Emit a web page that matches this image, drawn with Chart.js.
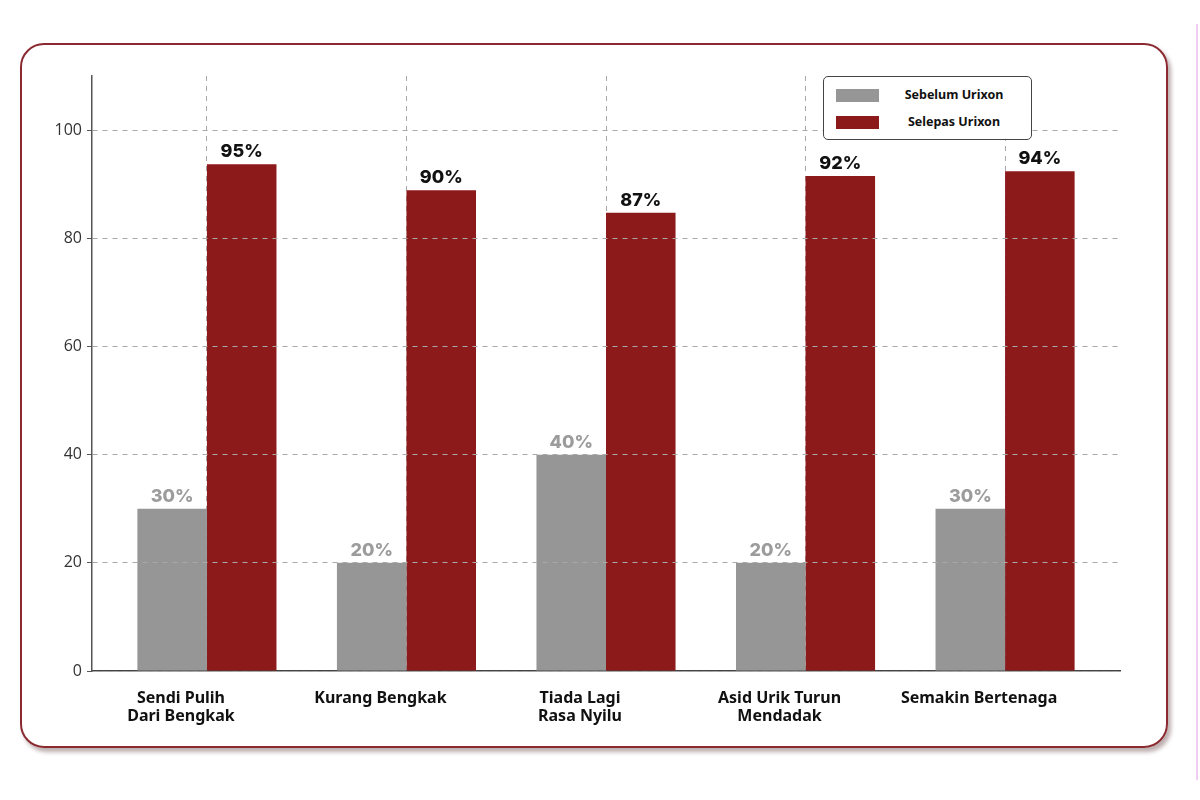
<!doctype html>
<html lang="ms">
<head>
    <meta charset="utf-8">
    <title>Sebelum dan Selepas Urixon</title>
    <script src="https://cdn.jsdelivr.net/npm/chart.js"></script>
    <style>
        html, body { margin: 0; padding: 0; background: #fff; }
        body { width: 1200px; height: 800px; position: relative; overflow: hidden; }
        #frame {
            position: absolute; left: 20px; top: 43px; width: 1144px; height: 701px;
            border: 2px solid #8a2a30; border-radius: 24px;
            box-shadow: 3px 4px 4px rgba(60, 20, 20, 0.35);
        }
        #edge {
            position: absolute; left: 1196px; top: 24px; width: 2px; height: 756px;
            background: #f1cdf3;
        }
        #chartbox { position: absolute; left: 0; top: 0; width: 1200px; height: 800px; }
        #legend {
            position: absolute; left: 823px; top: 76px; width: 207px; height: 62px;
            border: 1px solid #444; border-radius: 5px; background: #fff;
            font-family: "Noto Sans", sans-serif; font-weight: 700; font-size: 12.5px; color: #111;
        }
        #legend .row { position: absolute; left: 12px; height: 14px; width: 190px; }
        #legend .sw { position: absolute; left: 0; top: 0; width: 43px; height: 13px; }
        #legend .tx { position: absolute; left: 60px; width: 116px; top: -3px; text-align: center; white-space: nowrap; }
    </style>
</head>
<body>
<div id="frame"></div>
<div id="edge"></div>
<div id="chartbox"><canvas id="urixon" width="1200" height="800"></canvas></div>
<div id="legend"></div>
<script>
    // kategori dan nilai
    var categories = [
        ['Sendi Pulih', 'Dari Bengkak'],
        ['Kurang Bengkak'],
        ['Tiada Lagi', 'Rasa Nyilu'],
        ['Asid Urik Turun', 'Mendadak'],
        ['Semakin Bertenaga']
    ];
    var seriesNames = ['Sebelum Urixon', 'Selepas Urixon'];
    var sebelum = [30, 20, 40, 20, 30];
    var selepas = [93.7, 88.9, 84.7, 91.5, 92.4];
    var sebelumLabels = ['30%', '20%', '40%', '20%', '30%'];
    var selepasLabels = ['95%', '90%', '87%', '92%', '94%'];
    var yTicks = [0, 20, 40, 60, 80, 100];

    var GREY = '#969696';
    var RED = '#8c1a1b';

    function points(arr) {
        return arr.map(function (v, i) { return {x: i, y: v}; });
    }

    var barLabels = {
        id: 'barLabels',
        afterDraw: function (chart) {
            var ctx = chart.ctx;
            ctx.save();
            ctx.font = '800 18px Inter, "Noto Sans", sans-serif';
            ctx.textAlign = 'center';
            ctx.textBaseline = 'alphabetic';
            chart.data.datasets.forEach(function (ds, di) {
                var meta = chart.getDatasetMeta(di);
                meta.data.forEach(function (bar, i) {
                    ctx.fillStyle = ds.labelColor;
                    ctx.fillText(ds.valueLabels[i], bar.x, bar.y - 7);
                });
            });
            ctx.restore();
        }
    };

    var chart = new Chart(document.getElementById('urixon'), {
        type: 'bar',
        data: {
            datasets: [{
                label: seriesNames[0],
                data: points(sebelum),
                backgroundColor: GREY,
                valueLabels: sebelumLabels,
                labelColor: '#9c9c9c'
            }, {
                label: seriesNames[1],
                data: points(selepas),
                backgroundColor: RED,
                valueLabels: selepasLabels,
                labelColor: '#111'
            }]
        },
        options: {
            responsive: false,
            animation: false,
            categoryPercentage: 0.697,
            barPercentage: 1.0,
            layout: {padding: {left: 0, top: 76, right: 80, bottom: 59}},
            plugins: {
                legend: {display: false},
                tooltip: {enabled: false}
            },
            scales: {
                x: {
                    type: 'linear',
                    offset: false,
                    min: -0.576,
                    max: 4.576,
                    afterBuildTicks: function (axis) {
                        axis.ticks = categories.map(function (c, i) { return {value: i}; });
                    },
                    afterFit: function (scale) { scale.height = 70; },
                    ticks: {
                        autoSkip: false,
                        maxRotation: 0,
                        padding: 18,
                        labelOffset: -26,
                        color: '#111',
                        font: {family: '"Noto Sans", sans-serif', weight: '700', size: 16, lineHeight: 1.15},
                        callback: function (value) { return categories[value]; }
                    },
                    grid: {
                        offset: false,
                        drawTicks: false,
                        color: '#a8a8a8',
                        lineWidth: 1
                    },
                    border: {display: true, color: '#444', width: 1.5, dash: [5, 5]}
                },
                y: {
                    min: 0,
                    max: 110,
                    afterBuildTicks: function (axis) {
                        axis.ticks = yTicks.map(function (v) { return {value: v}; });
                    },
                    afterFit: function (scale) { scale.width = 92; },
                    ticks: {
                        padding: 5,
                        color: '#333',
                        font: {family: '"Open Sans", sans-serif', size: 16}
                    },
                    grid: {
                        z: 1,
                        color: '#a8a8a8',
                        tickColor: '#555',
                        tickLength: 5,
                        tickBorderDash: [],
                        lineWidth: 1
                    },
                    border: {display: true, z: 1, color: '#555', width: 1.5, dash: [5, 5]}
                }
            }
        },
        plugins: [barLabels]
    });

    // legenda html dari dataset
    var legend = document.getElementById('legend');
    chart.data.datasets.forEach(function (ds, i) {
        var row = document.createElement('div');
        row.className = 'row';
        row.style.top = (12 + i * 27) + 'px';
        row.innerHTML = '<div class="sw" style="background:' + ds.backgroundColor + '"></div>' +
            '<div class="tx">' + ds.label + '</div>';
        legend.appendChild(row);
    });
</script>
</body>
</html>
